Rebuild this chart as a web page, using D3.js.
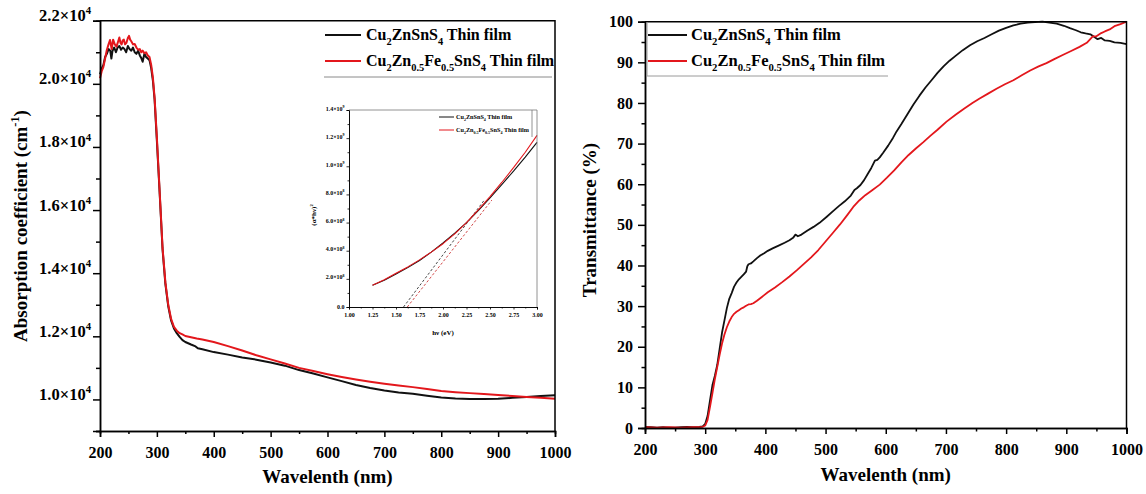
<!DOCTYPE html>
<html>
<head>
<meta charset="utf-8">
<script src="https://cdn.jsdelivr.net/npm/d3@7"></script>
<style>
  body { margin: 0; background: #fff; }
  svg { display: block; }
  text { font-family: "Liberation Serif", "Times New Roman", serif; font-weight: bold; white-space: pre; }
</style>
</head>
<body>
<svg id="chart" width="1146" height="494"></svg>
<script>
// ---- Absorption coefficient (cm^-1) vs wavelength (nm) ----
const absCZTS = [
  [200,20300],[203,20480],[206,20600],[209,20850],[212,20950],[215,21100],[218,21050],[220,20800],
  [222,21050],[225,21150],[228,21000],[231,21150],[234,21200],[237,21080],[240,21150],[243,21100],
  [246,21000],[249,21200],[252,21100],[255,21050],[258,21150],[261,21000],[264,20950],[267,21050],
  [270,20900],[273,20800],[275,20700],[278,20950],[281,20850],[284,20800],[287,20750],[290,20500],
  [293,20100],[296,19500],[300,18200],[305,16500],[310,14750],[315,13650],[320,12950],[325,12500],
  [330,12250],[335,12100],[340,11980],[345,11880],[350,11820],[360,11740],[368,11680],[372,11620],
  [380,11590],[400,11500],[425,11420],[450,11330],[475,11260],[500,11170],[525,11070],[550,10930],
  [575,10820],[600,10700],[625,10580],[650,10460],[675,10360],[700,10280],[725,10220],[750,10180],
  [775,10120],[800,10060],[825,10030],[850,10010],[875,10010],[900,10020],[925,10050],[950,10080],
  [975,10110],[1000,10130]
];
const absCZFTS = [
  [200,20180],[203,20400],[206,20540],[209,20800],[212,21070],[215,21250],[217.6,21390],[220.5,21100],
  [223,21400],[226,21250],[229,21180],[232,21350],[234,21470],[236,21300],[238,21250],[240,21380],
  [242,21400],[244,21250],[246.5,21300],[249,21450],[251,21520],[253,21400],[255,21350],[258,21250],
  [261,21260],[264,21150],[267,21080],[270,21100],[272.5,21000],[275,21050],[278,20970],[281,21000],
  [284,20900],[287,20850],[290,20600],[293,20200],[296,19550],[300,18300],[305,16550],[310,14800],
  [315,13700],[320,13000],[325,12550],[330,12300],[335,12180],[340,12100],[345,12060],[350,12010],
  [360,11970],[370,11930],[380,11900],[400,11820],[425,11690],[450,11550],[475,11400],[500,11270],
  [525,11140],[550,11000],[575,10900],[600,10800],[625,10710],[650,10630],[675,10560],[700,10500],
  [725,10440],[750,10390],[775,10330],[800,10270],[825,10230],[850,10200],[875,10170],[900,10140],
  [925,10110],[950,10080],[975,10050],[1000,10020]
];

// ---- Transmittance (%) vs wavelength (nm) ----
const transCZTS = [
  [200,0.3],[210,0.2],[220,0.1],[230,0.2],[240,0.1],[250,0.1],[260,0.2],[270,0.3],[280,0.2],[290,0.3],
  [296,0.4],[300,1.0],[304,3.0],[308,6.8],[312,10.5],[316,12.8],[320,15.5],[324,19.5],[328,23.5],
  [332,26.5],[336,29.5],[340,31.8],[344,33.2],[348,34.8],[352,35.8],[356,36.6],[360,37.2],[364,37.8],
  [368,38.5],[370,39.8],[372,40.3],[376,40.5],[380,41.0],[386,41.8],[392,42.5],[398,43.0],[404,43.6],
  [412,44.2],[422,44.9],[432,45.6],[440,46.2],[446,46.8],[450,47.6],[454,47.2],[460,47.6],[470,48.6],
  [480,49.5],[490,50.5],[502,52.0],[512,53.3],[522,54.6],[532,55.8],[542,57.2],[548,58.6],[552,59.0],
  [558,59.8],[564,61.0],[570,62.5],[576,64.0],[582,65.8],[586,66.0],[590,66.6],[596,67.8],[604,69.5],
  [612,71.4],[618,73.0],[626,74.8],[636,77.2],[646,79.6],[656,81.8],[666,83.8],[676,85.6],[686,87.4],
  [696,89.0],[706,90.4],[716,91.6],[728,93.0],[740,94.2],[752,95.2],[764,96.0],[776,96.9],[788,97.8],
  [800,98.5],[812,99.1],[824,99.5],[836,99.8],[848,99.9],[860,100],[872,99.8],[884,99.5],[896,99.0],
  [906,98.4],[916,97.9],[924,97.4],[932,97.1],[940,96.9],[946,96.3],[952,95.7],[958,96.0],[964,95.4],
  [972,95.3],[980,94.9],[990,94.8],[1000,94.5]
];
const transCZFTS = [
  [200,0.2],[220,0.1],[240,0.2],[260,0.1],[280,0.2],[296,0.3],[300,0.6],[304,2.0],[308,5.2],[312,8.5],
  [316,12.0],[320,15.0],[324,18.0],[328,20.8],[332,23.0],[336,24.8],[340,26.2],[344,27.3],[348,28.1],
  [352,28.6],[356,29.0],[360,29.4],[364,29.7],[368,30.1],[372,30.4],[376,30.5],[380,30.7],[386,31.3],
  [392,32.0],[398,32.7],[404,33.4],[416,34.6],[428,35.9],[440,37.3],[452,38.8],[464,40.4],[476,42.0],
  [488,43.8],[500,45.9],[512,48.0],[524,50.1],[536,52.4],[546,54.4],[556,56.0],[566,57.3],[578,58.6],
  [590,59.9],[602,61.6],[614,63.4],[626,65.4],[638,67.2],[650,68.8],[662,70.3],[674,71.9],[686,73.4],
  [701,75.4],[716,77.1],[730,78.6],[744,80.0],[756,81.1],[770,82.3],[784,83.5],[798,84.6],[812,85.6],
  [826,86.8],[840,88.0],[854,89.0],[867,89.8],[880,90.8],[894,91.8],[908,92.8],[922,93.8],[934,94.8],
  [944,96.4],[950,96.4],[958,97.2],[964,97.6],[972,98.1],[980,98.9],[990,99.4],[1000,100]
];

// ---- Tauc plot inset: (alpha*hv)^2 vs hv (eV) ----
const taucCZTS = [
  [1.25,1.55e8],[1.375,1.9e8],[1.5,2.35e8],[1.625,2.8e8],[1.75,3.3e8],[1.875,3.9e8],[2.0,4.55e8],
  [2.125,5.25e8],[2.25,6.0e8],[2.375,6.85e8],[2.5,7.75e8],[2.625,8.7e8],[2.75,9.65e8],[2.875,10.65e8],[3.0,11.7e8]
];
const taucCZFTS = [
  [1.25,1.55e8],[1.375,1.93e8],[1.5,2.4e8],[1.625,2.85e8],[1.75,3.35e8],[1.875,3.9e8],[2.0,4.5e8],
  [2.125,5.2e8],[2.25,6.0e8],[2.375,6.9e8],[2.5,7.85e8],[2.625,8.85e8],[2.75,9.9e8],[2.875,11.0e8],[3.0,12.2e8]
];
const fitCZTS = [[1.58,0],[2.44,7.6e8]];
const fitCZFTS = [[1.62,0],[2.52,7.6e8]];

// ---- tick values ----
const wlTicks = [200,300,400,500,600,700,800,900,1000];
const wlMinor = [250,350,450,550,650,750,850,950];
const absTicks = [10000,12000,14000,16000,18000,20000,22000];
const absMinor = [9000,11000,13000,15000,17000,19000,21000];
const transTicks = [0,10,20,30,40,50,60,70,80,90,100];
const transMinor = [5,15,25,35,45,55,65,75,85,95];
const hvTicks = [1.00,1.25,1.50,1.75,2.00,2.25,2.50,2.75,3.00];
const hvMinor = [1.125,1.375,1.625,1.875,2.125,2.375,2.625,2.875];
const taucTicks = [0,2e8,4e8,6e8,8e8,1e9,1.2e9,1.4e9];
const taucMinor = [1e8,3e8,5e8,7e8,9e8,1.1e9,1.3e9];

const legendCZTS = [["Cu"],["2","sub"],["ZnSnS"],["4","sub"],[" Thin film"]];
const legendCZFTS = [["Cu"],["2","sub"],["Zn"],["0.5","sub"],["Fe"],["0.5","sub"],["SnS"],["4","sub"],[" Thin film"]];

const BLACK = "#111";
const RED = "#e3171c";

const svg = d3.select("#chart");

// text with sub/superscript runs
function rich(sel, segs, fs) {
  let off = 0;
  segs.forEach(([s, kind]) => {
    const target = kind === "sub" ? fs * 0.3 : kind === "sup" ? -fs * 0.42 : 0;
    const ts = sel.append("tspan").attr("dy", target - off).text(s);
    if (kind) ts.attr("font-size", fs * 0.65);
    off = target;
  });
}

function styleAxis(g, fs, sw) {
  g.select(".domain").attr("stroke", "#000").attr("stroke-width", sw);
  g.selectAll(".tick line").attr("stroke", "#000").attr("stroke-width", sw);
  g.selectAll(".tick text").attr("font-size", fs).attr("fill", "#000")
    .attr("font-family", "Liberation Serif, serif").attr("font-weight", "bold");
}

function panelFrame(x, y, sw, color) {
  const [x0, x1] = x.range(), [y0, y1] = y.range();
  svg.append("path")
    .attr("d", `M${x0},${y1}H${x1}V${y0}`)
    .attr("fill", "none").attr("stroke", color).attr("stroke-width", sw);
}

function drawLine(g, x, y, data, color, w, dash) {
  const p = g.append("path").datum(data)
    .attr("fill", "none").attr("stroke", color).attr("stroke-width", w)
    .attr("stroke-linejoin", "round")
    .attr("d", d3.line().x(d => x(d[0])).y(d => y(d[1])));
  if (dash) p.attr("stroke-dasharray", dash);
}

// ================= Left panel: absorption =================
const xL = d3.scaleLinear().domain([200, 1000]).range([100, 555]);
const yL = d3.scaleLinear().domain([9000, 22000]).range([431, 20.7]);

drawLine(svg, xL, yL, absCZTS, BLACK, 2);
drawLine(svg, xL, yL, absCZFTS, RED, 2);

panelFrame(xL, yL, 1.5, "#000");

const gxL = svg.append("g").attr("transform", `translate(0,${yL.range()[0]})`)
  .call(d3.axisBottom(xL).tickValues(wlTicks).tickSize(6).tickPadding(10).tickFormat(d3.format("d")));
styleAxis(gxL, 16, 1.5);
const gxLm = svg.append("g").attr("transform", `translate(0,${yL.range()[0]})`)
  .call(d3.axisBottom(xL).tickValues(wlMinor).tickSize(3).tickFormat(""));
styleAxis(gxLm, 16, 1.5);

const gyL = svg.append("g").attr("transform", `translate(${xL.range()[0]},0)`)
  .call(d3.axisLeft(yL).tickValues(absTicks).tickSize(7).tickPadding(2).tickFormat(""));
styleAxis(gyL, 16.5, 1.5);
gyL.selectAll(".tick text").each(function (d) {
  const t = d3.select(this);
  t.text(null).attr("font-size", 16.5);
  rich(t, [[(d / 1e4).toFixed(1) + "×10"], ["4", "sup"]], 16.5);
});
const gyLm = svg.append("g").attr("transform", `translate(${xL.range()[0]},0)`)
  .call(d3.axisLeft(yL).tickValues(absMinor).tickSize(4).tickFormat(""));
styleAxis(gyLm, 16, 1.5);

svg.append("text").attr("x", xL(600)).attr("y", 483).attr("text-anchor", "middle")
  .attr("font-size", 19).text("Wavelenth (nm)");
const ytL = svg.append("text").attr("transform", "translate(27,226) rotate(-90)")
  .attr("text-anchor", "middle").attr("font-size", 19);
rich(ytL, [["Absorption coefficient (cm"], ["-1", "sup"], [")"]], 19);

// legend (left)
svg.append("line").attr("x1", 324).attr("x2", 552).attr("y1", 77).attr("y2", 77)
  .attr("stroke", "#8a8a8a").attr("stroke-width", 1);
[[legendCZTS, BLACK, 35], [legendCZFTS, RED, 61]].forEach(([segs, c, yy]) => {
  svg.append("line").attr("x1", 325).attr("x2", 361).attr("y1", yy).attr("y2", yy)
    .attr("stroke", c).attr("stroke-width", 2);
  const t = svg.append("text").attr("x", 366).attr("y", yy + 5).attr("font-size", 16);
  rich(t, segs, 16);
});

// ---- Inset: Tauc plot ----
const xI = d3.scaleLinear().domain([1, 3]).range([349, 537]);
const yI = d3.scaleLinear().domain([0, 1.4e9]).range([307, 110]);
const inset = svg.append("g");
drawLine(inset, xI, yI, fitCZTS, "#333", 0.9, "2.5,2");
drawLine(inset, xI, yI, fitCZFTS, "#c33", 0.9, "2.5,2");
drawLine(inset, xI, yI, taucCZTS, BLACK, 1.1);
drawLine(inset, xI, yI, taucCZFTS, RED, 1.1);
panelFrame(xI, yI, 0.8, "#777");

const gxI = inset.append("g").attr("transform", `translate(0,${yI.range()[0]})`)
  .call(d3.axisBottom(xI).tickValues(hvTicks).tickSize(2.5).tickPadding(3).tickFormat(d3.format(".2f")));
styleAxis(gxI, 6, 0.8);
const gxIm = inset.append("g").attr("transform", `translate(0,${yI.range()[0]})`)
  .call(d3.axisBottom(xI).tickValues(hvMinor).tickSize(1.5).tickFormat(""));
styleAxis(gxIm, 6, 0.8);
const gyI = inset.append("g").attr("transform", `translate(${xI.range()[0]},0)`)
  .call(d3.axisLeft(yI).tickValues(taucTicks).tickSize(2.5).tickPadding(2).tickFormat(""));
styleAxis(gyI, 6, 0.8);
gyI.selectAll(".tick text").each(function (d) {
  const t = d3.select(this);
  t.text(null);
  if (d === 0) { t.text("0.0"); return; }
  const e = Math.floor(Math.log10(d) + 1e-9);
  rich(t, [[(d / Math.pow(10, e)).toFixed(1) + "×10"], [String(e), "sup"]], 6);
});
const gyIm = inset.append("g").attr("transform", `translate(${xI.range()[0]},0)`)
  .call(d3.axisLeft(yI).tickValues(taucMinor).tickSize(1.5).tickFormat(""));
styleAxis(gyIm, 6, 0.8);

inset.append("text").attr("x", xI(2)).attr("y", 335).attr("text-anchor", "middle")
  .attr("font-size", 7).attr("font-weight", "normal").text("hν (eV)");
const ytI = inset.append("text").attr("transform", "translate(316,215) rotate(-90)")
  .attr("text-anchor", "middle").attr("font-size", 7).attr("font-weight", "normal");
rich(ytI, [["(α*hν)"], ["2", "sup"]], 7);

inset.append("line").attr("x1", 532).attr("x2", 532).attr("y1", 110).attr("y2", 137)
  .attr("stroke", "#777").attr("stroke-width", 0.8);
[[legendCZTS, BLACK, 117], [legendCZFTS, RED, 130]].forEach(([segs, c, yy]) => {
  inset.append("line").attr("x1", 439).attr("x2", 454).attr("y1", yy).attr("y2", yy)
    .attr("stroke", c).attr("stroke-width", 1);
  const t = inset.append("text").attr("x", 456).attr("y", yy + 2).attr("font-size", 6.2);
  rich(t, segs, 6.2);
});

// ================= Right panel: transmittance =================
const xR = d3.scaleLinear().domain([200, 1000]).range([645, 1126.5]);
const yR = d3.scaleLinear().domain([0, 100]).range([428, 21.7]);

drawLine(svg, xR, yR, transCZTS, BLACK, 1.8);
drawLine(svg, xR, yR, transCZFTS, RED, 1.8);

panelFrame(xR, yR, 1.5, "#000");

const gxR = svg.append("g").attr("transform", `translate(0,${yR.range()[0]})`)
  .call(d3.axisBottom(xR).tickValues(wlTicks).tickSize(6).tickPadding(10).tickFormat(d3.format("d")));
styleAxis(gxR, 16, 1.5);
const gxRm = svg.append("g").attr("transform", `translate(0,${yR.range()[0]})`)
  .call(d3.axisBottom(xR).tickValues(wlMinor).tickSize(3.5).tickFormat(""));
styleAxis(gxRm, 16, 1.5);
const gyR = svg.append("g").attr("transform", `translate(${xR.range()[0]},0)`)
  .call(d3.axisLeft(yR).tickValues(transTicks).tickSize(7).tickPadding(5).tickFormat(d3.format("d")));
styleAxis(gyR, 16, 1.5);
const gyRm = svg.append("g").attr("transform", `translate(${xR.range()[0]},0)`)
  .call(d3.axisLeft(yR).tickValues(transMinor).tickSize(3.5).tickFormat(""));
styleAxis(gyRm, 16, 1.5);

svg.append("text").attr("x", xR(600)).attr("y", 481).attr("text-anchor", "middle")
  .attr("font-size", 19).text("Wavelenth (nm)");
svg.append("text").attr("transform", "translate(596,220) rotate(-90)")
  .attr("text-anchor", "middle").attr("font-size", 19).text("Transmittance (%)");

// legend (right)
svg.append("path").attr("d", "M647,22V76H888").attr("fill", "none")
  .attr("stroke", "#9a9a9a").attr("stroke-width", 1);
[[legendCZTS, BLACK, 35], [legendCZFTS, RED, 61]].forEach(([segs, c, yy]) => {
  svg.append("line").attr("x1", 648).attr("x2", 687).attr("y1", yy).attr("y2", yy)
    .attr("stroke", c).attr("stroke-width", 2);
  const t = svg.append("text").attr("x", 691).attr("y", yy + 5).attr("font-size", 16.5);
  rich(t, segs, 16.5);
});
</script>
</body>
</html>
